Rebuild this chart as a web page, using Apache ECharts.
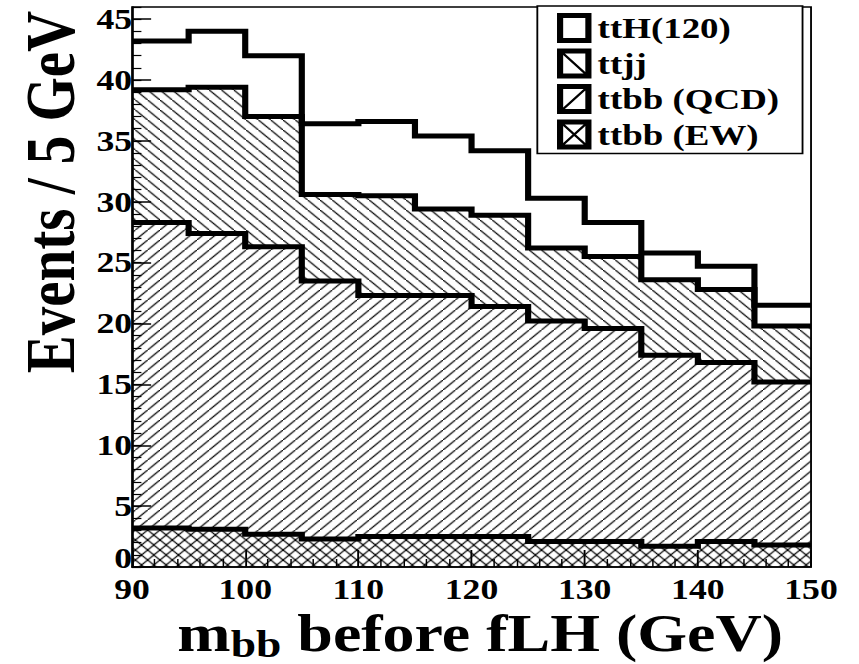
<!DOCTYPE html>
<html>
<head>
<meta charset="utf-8">
<title>m_bb before fLH</title>
<script src="https://cdn.jsdelivr.net/npm/echarts@6/dist/echarts.min.js"></script>
<style>
html, body { margin: 0; padding: 0; background: #fff; overflow: hidden; }
/* the original picture is stretched sideways, so draw narrow and widen it */
#main { width: 698px; height: 664px; transform: scaleX(1.2307); transform-origin: 0 0; }
</style>
</head>
<body>
<div id="main"></div>
<script>
// 5 GeV bins, 90 - 150 GeV
var binEdges = [90, 95, 100, 105, 110, 115, 120, 125, 130, 135, 140, 145, 150];
// events per bin for each process (stack order: bottom first)
var ttbbEW  = [3.2, 3.1, 2.7, 2.3, 2.5, 2.5, 2.5, 2.1, 2.1, 1.7, 2.1, 1.8];
var ttbbQCD = [25.1, 24.3, 23.6, 21.2, 19.8, 19.8, 18.9, 18.1, 17.5, 15.7, 14.7, 13.4];
var ttjj    = [10.9, 12.0, 10.7, 7.1, 8.2, 7.1, 7.5, 6.0, 5.9, 6.2, 6.0, 4.6];
var ttH120  = [4.0, 4.6, 5.0, 5.8, 6.1, 6.0, 5.3, 4.1, 2.8, 2.2, 1.9, 1.7];
var names   = ['ttbb (EW)', 'ttbb (QCD)', 'ttjj', 'ttH(120)'];

var FONT = "'Liberation Serif', 'Times New Roman', serif";

function hatchTile(kind)
{
    var s = 10;
    var c = document.createElement('canvas');
    c.width = s; c.height = s;
    var g = c.getContext('2d');
    g.strokeStyle = '#000';
    g.lineWidth = 1.2;
    function seg(x0, y0, x1, y1) { g.beginPath(); g.moveTo(x0, y0); g.lineTo(x1, y1); g.stroke(); }
    if (kind == 'back' || kind == 'cross') seg(-1, -1, s + 1, s + 1);
    if (kind == 'fwd' || kind == 'cross') seg(-1, s + 1, s + 1, -1);
    return { image: c, repeat: 'repeat', imageWidth: s, imageHeight: s };
}

// legend boxes: thick frame + hatch stroke, drawn as one filled path
var frame = 'M0 0 H28 V30 H0 Z M5 5 V25 H23 V5 Z ';
var back  = 'M5 5 L6.4 5 L23 23.5 L23 25 L21.6 25 L5 6.5 Z ';
var fwd   = 'M5 25 L5 23.5 L21.6 5 L23 5 L23 6.5 L6.4 25 Z ';
var icons = {
    'ttH(120)': 'path://' + frame,
    'ttjj': 'path://' + frame + back,
    'ttbb (QCD)': 'path://' + frame + fwd,
    'ttbb (EW)': 'path://' + frame + back + fwd
};

var layers = [
    { name: names[0], values: ttbbEW,  fill: hatchTile('cross') },
    { name: names[1], values: ttbbQCD, fill: hatchTile('fwd') },
    { name: names[2], values: ttjj,    fill: hatchTile('back') },
    { name: names[3], values: ttH120,  fill: 'none' }
];

function makeSeries()
{
    var out = [];
    var lower = ttbbEW.map(function () { return 0; });
    layers.forEach(function (layer) {
        var upper = lower.map(function (b, i) { return +(b + layer.values[i]).toFixed(2); });
        var rects = [];
        for (var i = 0; i < upper.length; i++) {
            rects.push([binEdges[i], binEdges[i + 1], lower[i], upper[i]]);
        }
        out.push({
            name: layer.name,
            type: 'custom',
            z: 1,
            encode: { x: [0, 1], y: [2, 3] },
            data: rects,
            renderItem: function (params, api) {
                var p0 = api.coord([api.value(0), api.value(3)]);
                var p1 = api.coord([api.value(1), api.value(2)]);
                return {
                    type: 'rect',
                    shape: { x: p0[0], y: p0[1], width: p1[0] - p0[0], height: p1[1] - p0[1] },
                    style: { fill: layer.fill, stroke: null }
                };
            }
        });
        out.push({
            name: layer.name,
            type: 'line',
            z: 3,
            step: 'end',
            symbol: 'none',
            data: binEdges.map(function (e, i) { return [e, upper[Math.min(i, upper.length - 1)]]; }),
            lineStyle: { color: '#000', width: 5, join: 'miter', cap: 'butt' }
        });
        lower = upper;
    });
    return out;
}

var labelFont = { fontFamily: FONT, fontWeight: 'bold', fontSize: 29, color: '#000' };

var chart = echarts.init(document.getElementById('main'), null, { renderer: 'svg' });
chart.setOption({
    animation: false,
    backgroundColor: '#fff',
    grid: {
        left: 107.3, right: 39, top: 7, bottom: 97,
        show: true, borderColor: '#000', borderWidth: 1.5,
        outerBoundsMode: 'none'
    },
    legend: {
        orient: 'vertical',
        left: 436.6, top: 6,
        padding: [7, 19, 4, 16],
        itemGap: 5.5, itemWidth: 28, itemHeight: 30, itemTextGap: 11,
        borderColor: '#000', borderWidth: 1.5, backgroundColor: '#fff',
        selectedMode: false,
        itemStyle: { color: '#000', borderWidth: 0 },
        textStyle: { fontFamily: FONT, fontWeight: 'bold', fontSize: 30, color: '#000' },
        data: names.slice().reverse().map(function (n) { return { name: n, icon: icons[n] }; })
    },
    xAxis: [{
        type: 'value', min: 90, max: 150, interval: 10,
        axisLine: { lineStyle: { color: '#000', width: 1.5 } },
        axisTick: { inside: true, length: 17, lineStyle: { color: '#000', width: 1.5 } },
        minorTick: { show: true, splitNumber: 5, length: 8, lineStyle: { color: '#000', width: 1.2 } },
        splitLine: { show: false },
        axisLabel: Object.assign({ margin: 12, lineHeight: 20 }, labelFont),
        name: '{m|m}{s|bb}{t| before fLH (GeV)}',
        nameLocation: 'middle', nameGap: 41, nameMoveOverlap: false,
        nameTextStyle: {
            padding: [0, 0, 0, 14],
            rich: {
                m: { fontFamily: FONT, fontWeight: 'bold', fontSize: 52, color: '#000', verticalAlign: 'top', lineHeight: 55 },
                t: { fontFamily: FONT, fontWeight: 'bold', fontSize: 52, color: '#000', verticalAlign: 'top', lineHeight: 55 },
                s: { fontFamily: FONT, fontWeight: 'bold', fontSize: 37, color: '#000', verticalAlign: 'bottom', lineHeight: 55 }
            }
        }
    }],
    yAxis: [{
        type: 'value', min: 0, max: 46, interval: 5,
        axisLine: { lineStyle: { color: '#000', width: 1.5 } },
        axisTick: { inside: true, length: 15.5, lineStyle: { color: '#000', width: 1.5 } },
        splitLine: { show: false },
        axisLabel: Object.assign({
            margin: 0, lineHeight: 20, showMaxLabel: false,
            // lift the "0" a little so it clears the "90" below it
            formatter: function (v) { return v === 0 ? '{z|0}' : String(v); },
            rich: { z: Object.assign({ lineHeight: 20, padding: [0, 0, 18, 0] }, labelFont) }
        }, labelFont),
        name: 'Events / 5 GeV',
        nameLocation: 'middle', nameGap: 38, nameMoveOverlap: false,
        nameTextStyle: { fontFamily: FONT, fontWeight: 'bold', fontSize: 57, color: '#000', padding: [0, 0, 0, 190] }
    }, {
        type: 'value', min: 0, max: 46, interval: 1, position: 'left',
        axisLine: { show: false },
        axisTick: { inside: true, length: 7.6, lineStyle: { color: '#000', width: 1.2 } },
        axisLabel: { show: false },
        splitLine: { show: false }
    }],
    series: makeSeries()
});
</script>
</body>
</html>
